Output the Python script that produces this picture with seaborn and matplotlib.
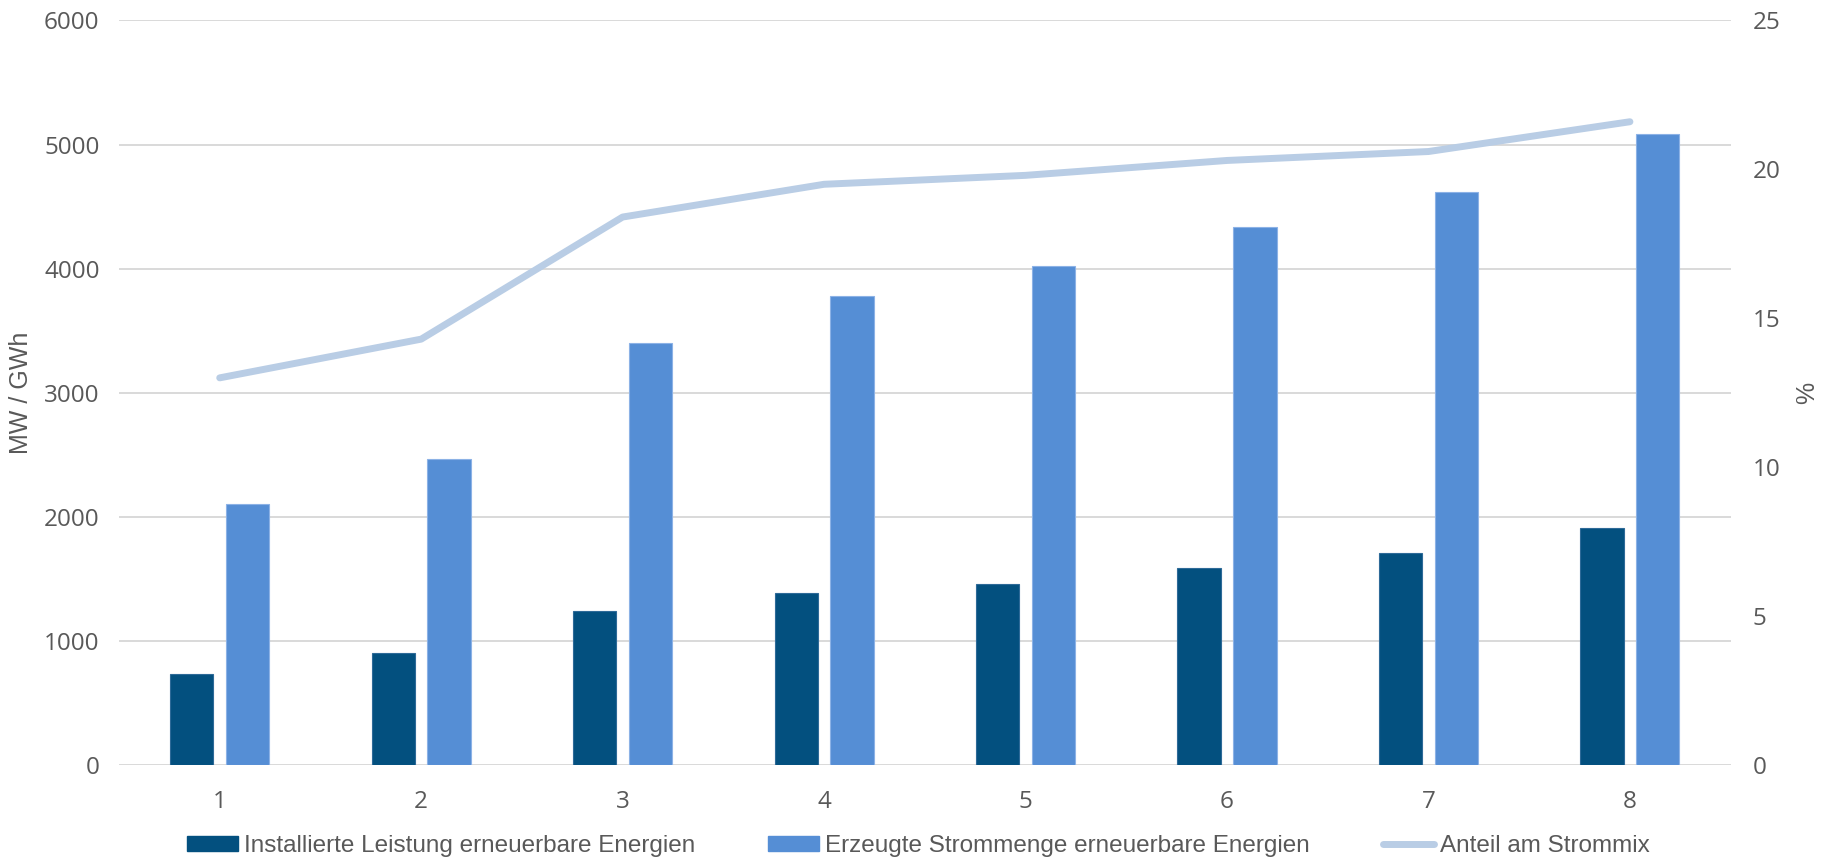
import matplotlib
matplotlib.use("Agg")
import matplotlib.pyplot as plt
import seaborn as sns
import pandas as pd
import numpy as np
from matplotlib.patches import Rectangle
from matplotlib.lines import Line2D

# Data
categories = ["1", "2", "3", "4", "5", "6", "7", "8"]
installed_mw = [735, 900, 1245, 1385, 1460, 1590, 1710, 1910]
generated_gwh = [2100, 2470, 3400, 3780, 4020, 4335, 4620, 5085]
share_pct = [13.0, 14.3, 18.4, 19.5, 19.8, 20.3, 20.6, 21.6]

series_names = [
    "Installierte Leistung erneuerbare Energien",
    "Erzeugte Strommenge erneuerbare Energien",
    "Anteil am Strommix",
]
left_ticks = [0, 1000, 2000, 3000, 4000, 5000, 6000]
right_ticks = [0, 5, 10, 15, 20, 25]

DARK = "#03507F"
LIGHT = "#558ED5"
LINE = "#B9CDE5"
TEXT = "#595959"
GRID = "#D9D9D9"

sns.set_theme(style="white")
plt.rcParams["font.family"] = ["Open Sans", "DejaVu Sans"]
narrow = ["Liberation Sans Narrow", "Liberation Sans", "DejaVu Sans"]

df = pd.DataFrame({
    "Kategorie": categories * 2,
    "Wert": installed_mw + generated_gwh,
    "Reihe": [series_names[0]] * len(categories) + [series_names[1]] * len(categories),
})

fig = plt.figure(figsize=(18.25, 8.61), dpi=100)
ax = fig.add_axes([0.0652, 0.1115, 0.8831, 0.8647])

sns.barplot(
    data=df, x="Kategorie", y="Wert", hue="Reihe",
    hue_order=series_names[:2], order=categories,
    palette=[DARK, LIGHT], saturation=1, width=0.554, gap=0.224,
    errorbar=None, ax=ax, legend=False, zorder=2,
)
edge_cols = ["#2E6A98", "#8CB2E6"]
for i, patch in enumerate(ax.patches):
    patch.set_edgecolor(edge_cols[0] if i < len(categories) else edge_cols[1])
    patch.set_linewidth(0.8)

ax.set_xlim(-0.5, len(categories) - 0.5)
ax.set_ylim(0, 6000)
ax.set_yticks(left_ticks)
ax.set_yticklabels([str(t) for t in left_ticks])
ax.yaxis.grid(True, color=GRID, linewidth=1.4, zorder=0)
ax.set_axisbelow(True)
for s in ax.spines.values():
    s.set_visible(False)
ax.tick_params(axis="both", length=0, colors=TEXT, labelsize=17.5)
ax.tick_params(axis="y", pad=14)
ax.tick_params(axis="x", pad=18)
ax.set_xlabel("")
ax.set_ylabel("MW / GWh", fontsize=18, color=TEXT, family=narrow, labelpad=8)

# Share line on the secondary axis
ax2 = ax.twinx()
sns.lineplot(
    x=np.arange(len(categories)), y=share_pct, ax=ax2,
    color=LINE, linewidth=5, solid_capstyle="round", solid_joinstyle="round",
)
ax2.set_ylim(0, 25)
ax2.set_yticks(right_ticks)
ax2.set_yticklabels([str(t) for t in right_ticks])
ax2.grid(False)
for s in ax2.spines.values():
    s.set_visible(False)
ax2.tick_params(axis="y", length=0, colors=TEXT, labelsize=17.5, pad=16)
ax2.set_ylabel("%", fontsize=18, color=TEXT, family=narrow, labelpad=10)

handles = [
    Rectangle((0, 0), 1, 1, facecolor=DARK, edgecolor=DARK),
    Rectangle((0, 0), 1, 1, facecolor=LIGHT, edgecolor=LIGHT),
    Line2D([0], [0], color=LINE, linewidth=5, solid_capstyle="round"),
]
leg = fig.legend(
    handles, series_names, loc="center", bbox_to_anchor=(0.503, 0.0175),
    ncol=3, frameon=False, prop={"family": narrow, "size": 17.5},
    handlelength=2.1, handleheight=0.55, handletextpad=0.25, columnspacing=3.0,
    borderaxespad=0, borderpad=0,
)
for t in leg.get_texts():
    t.set_color(TEXT)

fig.savefig("out.png", dpi=100)
